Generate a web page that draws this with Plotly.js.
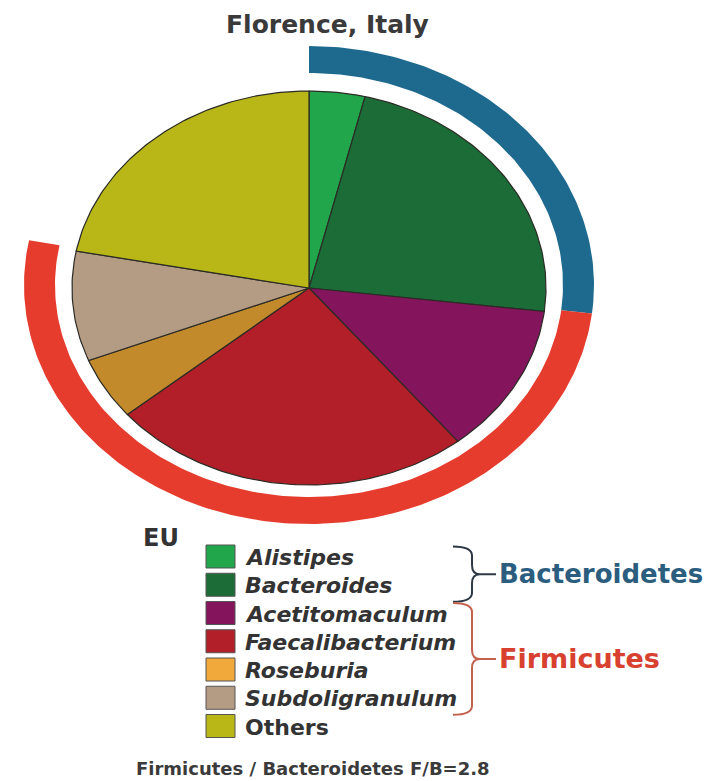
<!DOCTYPE html>
<html>
<head>
<meta charset="utf-8">
<script src="https://cdn.plot.ly/plotly-3.0.1.min.js"></script>
<style>
  html, body { margin: 0; padding: 0; background: #ffffff; }
  #chart { width: 717px; height: 781px; }
</style>
</head>
<body>
<div id="chart"></div>
<script>
// Gut microbiota composition, Florence (EU cohort)
const genera = ['Alistipes', 'Bacteroides', 'Acetitomaculum', 'Faecalibacterium', 'Roseburia', 'Subdoligranulum', 'Others'];
const shares = [3.8, 23.1, 12.3, 24.7, 5.1, 9.0, 22.0];
const phylumOf = ['Bacteroidetes', 'Bacteroidetes', 'Firmicutes', 'Firmicutes', 'Firmicutes', 'Firmicutes', ''];
const italicName = [true, true, true, true, true, true, false];
const sliceColors = ['#22a64c', '#1b6c37', '#84155d', '#b21f29', '#c38a2c', '#b49b83', '#b8b717'];
const swatchColors = ['#22a64c', '#1b6c37', '#84155d', '#b21f29', '#f0a93a', '#b49b83', '#b8b717'];
const phyla = ['Bacteroidetes', 'Firmicutes'];
const phylumRingColors = ['#1e6a8f', '#e63c2e'];
const phylumTextColors = ['#2b5d7f', '#d8412f'];
const phylumBraceColors = ['#2e3946', '#c2624e'];
const siteTitle = 'Florence, Italy';
const regionLabel = 'EU';
const ratioLabel = 'Firmicutes / Bacteroidetes F/B=2.8';

// Geometry (pixel space: the axes map 1:1 onto the page)
const W = 717, H = 781;
const pie = { cx: 309, cy: 288, rx: 237, ry: 197 };
const ring = { cx: 309, cy: 285, rxIn: 254, ryIn: 212, rxOut: 285, ryOut: 239 };
const legend = { x0: 206, x1: 235, textX: 243, y0: 556.5, pitch: 28.25, h: 23 };
const brace = { x0: 453, spine: 472, tip: 480, end: 496, r: 9 };
const FONT = 'DejaVu Sans';

function arcPoints(cx, cy, rx, ry, a0, a1) {
  const n = Math.max(2, Math.ceil(Math.abs(a1 - a0)));
  const xs = [], ys = [];
  for (let i = 0; i <= n; i++) {
    const t = (a0 + (a1 - a0) * i / n) * Math.PI / 180;
    xs.push(cx + rx * Math.sin(t));
    ys.push(cy - ry * Math.cos(t));
  }
  return { xs, ys };
}

// cumulative angles, clockwise from 12 o'clock
const total = shares.reduce((a, b) => a + b, 0);
const bounds = [0];
shares.forEach(v => bounds.push(bounds[bounds.length - 1] + v / total * 360));

const traces = [];

// phylum rings around the pie
phyla.forEach((p, k) => {
  const idx = phylumOf.map((q, i) => q === p ? i : -1).filter(i => i >= 0);
  const a0 = bounds[idx[0]], a1 = bounds[idx[idx.length - 1] + 1];
  const outer = arcPoints(ring.cx, ring.cy, ring.rxOut, ring.ryOut, a0, a1);
  const inner = arcPoints(ring.cx, ring.cy, ring.rxIn, ring.ryIn, a1, a0);
  traces.push({
    type: 'scatter', mode: 'lines', fill: 'toself',
    x: outer.xs.concat(inner.xs), y: outer.ys.concat(inner.ys),
    fillcolor: phylumRingColors[k], line: { width: 0, color: phylumRingColors[k] },
    hoverinfo: 'skip', showlegend: false
  });
});

// pie wedges
genera.forEach((g, i) => {
  const a = arcPoints(pie.cx, pie.cy, pie.rx, pie.ry, bounds[i], bounds[i + 1]);
  traces.push({
    type: 'scatter', mode: 'lines', fill: 'toself', name: g,
    x: [pie.cx].concat(a.xs, [pie.cx]), y: [pie.cy].concat(a.ys, [pie.cy]),
    fillcolor: sliceColors[i], line: { width: 1.2, color: '#2b2b25' },
    hoverinfo: 'skip', showlegend: false
  });
});

const shapes = [];
const annotations = [];

// legend swatches and names
genera.forEach((g, i) => {
  const yc = legend.y0 + i * legend.pitch;
  shapes.push({
    type: 'rect', xref: 'x', yref: 'y',
    x0: legend.x0, x1: legend.x1, y0: yc - legend.h / 2, y1: yc + legend.h / 2,
    fillcolor: swatchColors[i], line: { color: '#555555', width: 1 }
  });
  const label = italicName[i] ? '<b><i>' + g + '</i></b>' : '<b>' + g + '</b>';
  annotations.push({
    xref: 'x', yref: 'y', x: legend.textX, y: yc + 1, xanchor: 'left', yanchor: 'middle',
    text: label, showarrow: false,
    font: { family: FONT, size: 22, color: '#333333' }
  });
});

// braces grouping genera into phyla
phyla.forEach((p, k) => {
  const idx = phylumOf.map((q, i) => q === p ? i : -1).filter(i => i >= 0);
  const top = legend.y0 + idx[0] * legend.pitch - 10;
  const bot = legend.y0 + idx[idx.length - 1] * legend.pitch + 17;
  const mid = (top + bot) / 2;
  const b = brace;
  const path = 'M' + b.x0 + ',' + top +
    ' Q' + b.spine + ',' + top + ' ' + b.spine + ',' + (top + b.r) +
    ' L' + b.spine + ',' + (mid - b.r) +
    ' Q' + b.spine + ',' + mid + ' ' + b.tip + ',' + mid +
    ' L' + b.end + ',' + mid +
    ' M' + b.tip + ',' + mid +
    ' Q' + b.spine + ',' + mid + ' ' + b.spine + ',' + (mid + b.r) +
    ' L' + b.spine + ',' + (bot - b.r) +
    ' Q' + b.spine + ',' + bot + ' ' + b.x0 + ',' + bot;
  shapes.push({
    type: 'path', xref: 'x', yref: 'y', path: path,
    line: { color: phylumBraceColors[k], width: 2 }
  });
  annotations.push({
    xref: 'x', yref: 'y', x: b.end + 1, y: mid, xanchor: 'left', yanchor: 'middle',
    text: '<b>' + p + '</b>', showarrow: false,
    font: { family: FONT, size: k === 0 ? 26 : 27, color: phylumTextColors[k] }
  });
});

// titles
annotations.push({
  xref: 'x', yref: 'y', x: 327, y: 24, xanchor: 'center', yanchor: 'middle',
  text: '<b>' + siteTitle + '</b>', showarrow: false,
  font: { family: FONT, size: 25, color: '#3a3a3a' }
});
annotations.push({
  xref: 'x', yref: 'y', x: 141, y: 538, xanchor: 'left', yanchor: 'middle',
  text: '<b>' + regionLabel + '</b>', showarrow: false,
  font: { family: FONT, size: 24, color: '#333333' }
});
annotations.push({
  xref: 'x', yref: 'y', x: 134, y: 768, xanchor: 'left', yanchor: 'middle',
  text: '<b>' + ratioLabel + '</b>', showarrow: false,
  font: { family: FONT, size: 18, color: '#3a3a3a' }
});

const layout = {
  width: W, height: H,
  margin: { l: 0, r: 0, t: 0, b: 0, pad: 0 },
  paper_bgcolor: '#ffffff', plot_bgcolor: '#ffffff',
  xaxis: { range: [0, W], visible: false, fixedrange: true },
  yaxis: { range: [H, 0], visible: false, fixedrange: true },
  showlegend: false, hovermode: false,
  shapes: shapes, annotations: annotations
};

Plotly.newPlot('chart', traces, layout, { staticPlot: true, displayModeBar: false });
</script>
</body>
</html>
